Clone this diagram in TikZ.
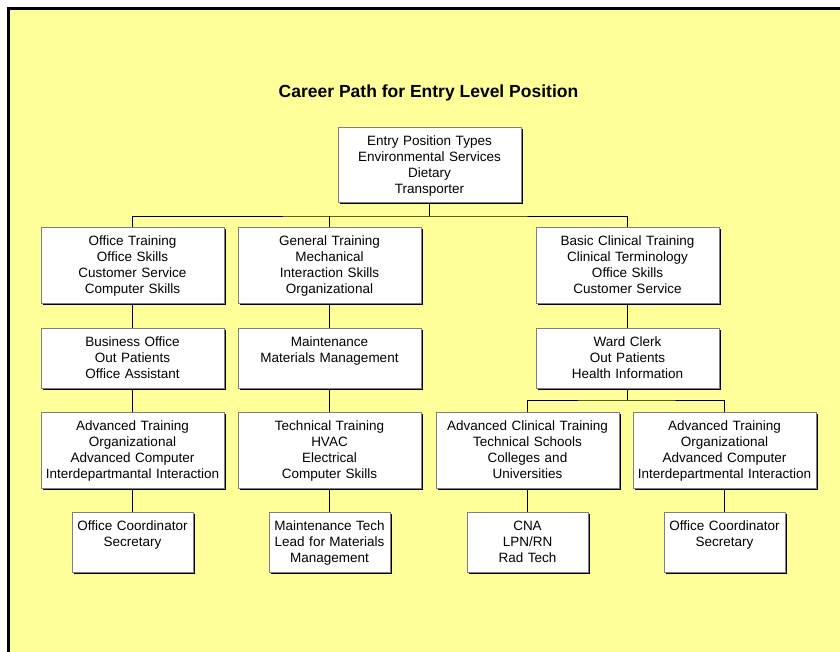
\documentclass[tikz,border=0pt]{standalone}
\usepackage{fontspec}
\setmainfont{Liberation Sans}
\usetikzlibrary{shadows}
\usepackage{color}
\definecolor{PageYellow}{HTML}{FFFF99}
\definecolor{BoxEdge}{HTML}{7F7F7F}

\begin{document}
\begin{tikzpicture}[x=1pt,y=-1pt,
        posbox/.style={draw=BoxEdge, line width=0.8pt, fill=white, anchor=north, align=center,
          text width=183pt, inner xsep=0pt, inner ysep=7pt, text height=11pt, text depth=51pt,
          font=\fontsize{13.5}{16}\selectfont,
          drop shadow={shadow xshift=2pt, shadow yshift=-2pt, fill=black, opacity=1}},
        shortbox/.style={posbox, text depth=35pt},
        narrowbox/.style={shortbox, text width=121pt},
        link/.style={draw=black, line width=0.8pt}]
        \useasboundingbox (0,0) rectangle (840,652);
        \clip (0,0) rectangle (840,652);
        \fill[white] (0,0) rectangle (840,652);
        \draw[line width=3pt, fill=PageYellow] (8.5,8.5) rectangle (860,670);
        \node[anchor=base, font=\fontsize{17.5}{20}\selectfont\bfseries] (title) at (428.5,98) {Career Path for Entry Level Position};
        \node[posbox, text depth=50pt] (entry) at (429.5,127) {Entry Position Types\\Environmental Services\\Dietary\\Transporter};
        \node[posbox] (office) at (132.5,227) {Office Training\\Office Skills\\Customer Service\\Computer Skills};
        \node[posbox] (general) at (329.5,227) {General Training\\Mechanical\\Interaction Skills\\Organizational};
        \node[posbox] (clinical) at (627.5,227) {Basic Clinical Training\\Clinical Terminology\\Office Skills\\Customer Service};
        \node[shortbox] (business) at (132.5,328) {Business Office\\Out Patients\\Office Assistant};
        \node[shortbox] (maint) at (329.5,328) {Maintenance\\Materials Management};
        \node[shortbox] (ward) at (627.5,328) {Ward Clerk\\Out Patients\\Health Information};
        \node[posbox] (advoffice) at (132.5,412) {Advanced Training\\Organizational\\Advanced Computer\\Interdepartmantal Interaction};
        \node[posbox] (technical) at (329.5,412) {Technical Training\\HVAC\\Electrical\\Computer Skills};
        \node[posbox] (advclin) at (527.5,412) {Advanced Clinical Training\\Technical Schools\\Colleges and\\Universities};
        \node[posbox] (advright) at (724.5,412) {Advanced Training\\Organizational\\Advanced Computer\\Interdepartmental Interaction};
        \node[narrowbox] (coord) at (132.5,512) {Office Coordinator\\Secretary};
        \node[narrowbox] (mtech) at (329.5,512) {Maintenance Tech\\Lead for Materials\\Management};
        \node[narrowbox] (cna) at (527.5,512) {CNA\\LPN/RN\\Rad Tech};
        \node[narrowbox] (coordright) at (724.5,512) {Office Coordinator\\Secretary};
        \coordinate (busA) at (429.5,216);
        \coordinate (busB) at (627.5,400);
        \draw[link] (entry.south) -- (busA);
        \draw[link] (office.north) |- (busA) -| (clinical.north);
        \draw[link] (general.north) -- (general.north |- busA);
        \draw[link] (office.south) -- (business.north);
        \draw[link] (business.south) -- (advoffice.north);
        \draw[link] (advoffice.south) -- (coord.north);
        \draw[link] (general.south) -- (maint.north);
        \draw[link] (maint.south) -- (technical.north);
        \draw[link] (technical.south) -- (mtech.north);
        \draw[link] (clinical.south) -- (ward.north);
        \draw[link] (ward.south) -- (busB);
        \draw[link] (advclin.north) |- (busB) -| (advright.north);
        \draw[link] (advclin.south) -- (cna.north);
        \draw[link] (advright.south) -- (coordright.north);
      \end{tikzpicture}
\end{document}
